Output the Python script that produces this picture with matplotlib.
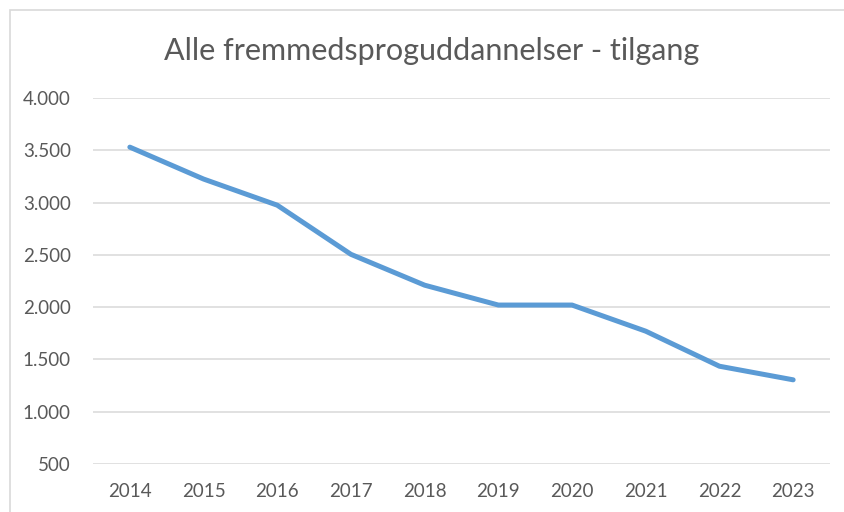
import matplotlib
matplotlib.use("Agg")
from matplotlib import pyplot as plt
from matplotlib.patches import Rectangle
from matplotlib.ticker import FuncFormatter

plt.rcParams['font.family'] = ['Lato', 'DejaVu Sans']

years = ['2014', '2015', '2016', '2017', '2018', '2019', '2020', '2021', '2022', '2023']
tilgang = [3530, 3225, 2975, 2505, 2210, 2020, 2020, 1770, 1435, 1305]

fig = plt.figure(figsize=(8.44, 5.12), dpi=100)
ax = fig.add_axes([93 / 844, 1 - 464 / 512, (830 - 93) / 844, (464 - 98) / 512])

# chart area border (Excel style, cropped at right/bottom)
fig.patches.append(Rectangle((10 / 844, -0.1), 1.2, 1.1 - 10 / 512 + 0.0,
                             transform=fig.transFigure, fill=False,
                             edgecolor='#D9D9D9', linewidth=1.2))

x = list(range(len(years)))
ax.plot(x, tilgang, color='#5B9BD5', linewidth=3.6, solid_capstyle='round',
        solid_joinstyle='round', zorder=3)

ax.set_xlim(-0.5, len(years) - 0.5)
ax.set_ylim(500, 4000)
ax.set_yticks(range(500, 4001, 500))
ax.yaxis.set_major_formatter(FuncFormatter(lambda v, p: f"{int(v):,}".replace(',', '.')))
ax.set_xticks(x)
ax.set_xticklabels(years)

ax.grid(axis='y', color='#D9D9D9', linewidth=1.1)
ax.set_axisbelow(True)
for s in ax.spines.values():
    s.set_visible(False)
ax.tick_params(axis='both', length=0, labelsize=13.5, colors='#595959')
ax.tick_params(axis='x', pad=14)
ax.tick_params(axis='y', pad=16)

fig.text(432 / 844, 1 - 51 / 512, "Alle fremmedsproguddannelser - tilgang",
         ha='center', va='center', fontsize=22, color='#595959')

plt.savefig("out.png", dpi=100)
